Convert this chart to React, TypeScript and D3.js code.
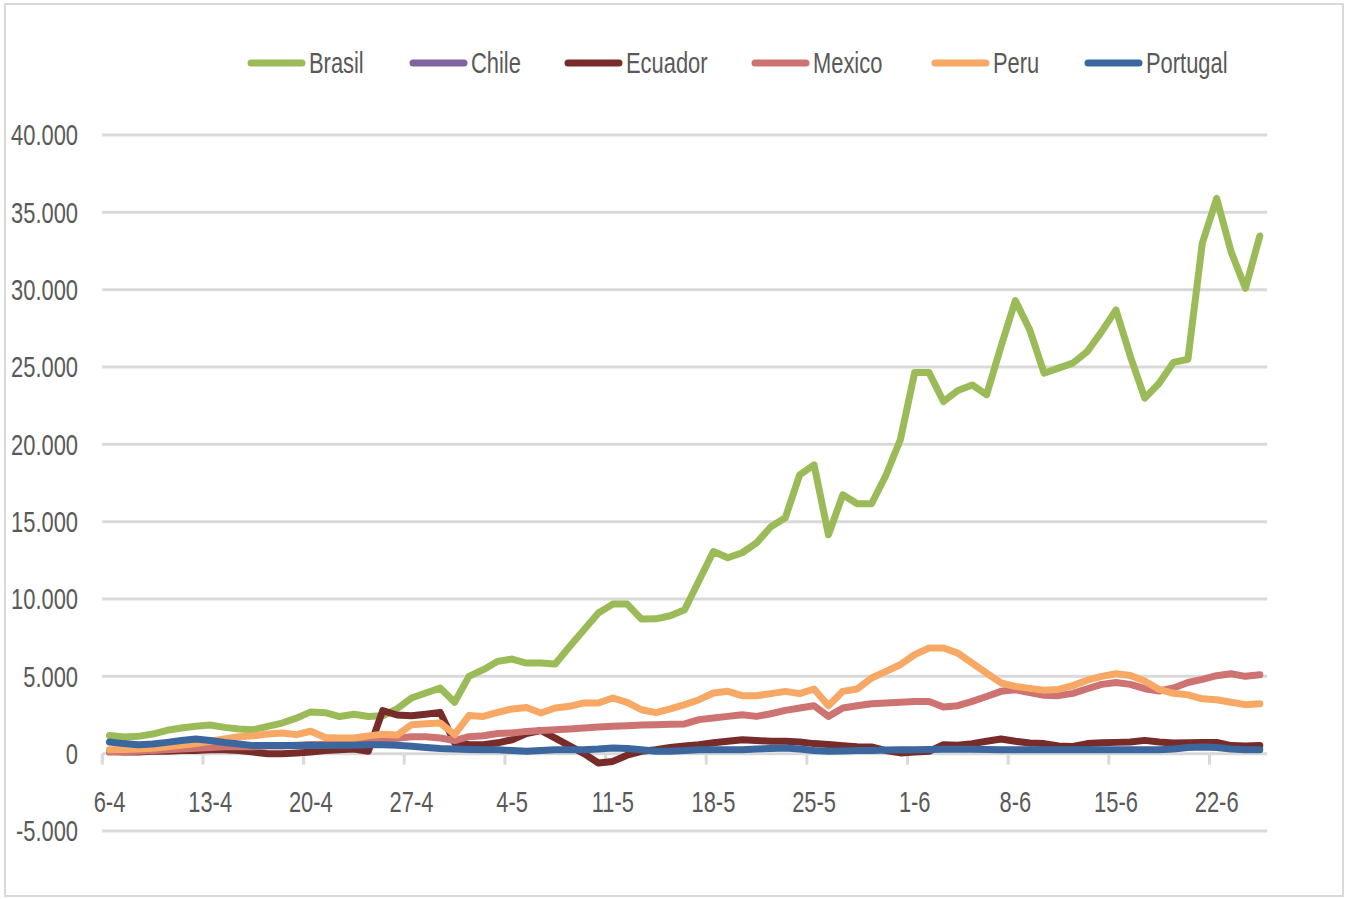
import React from 'react';
import * as d3 from 'd3';

const startDate = new Date(2020, 3, 6);
const dayCount = 81;
const dates = d3.timeDay.range(startDate, d3.timeDay.offset(startDate, dayCount));
const tickLabels = ['6-4', '13-4', '20-4', '27-4', '4-5', '11-5', '18-5', '25-5', '1-6', '8-6', '15-6', '22-6'];
const yTicks = [-5000, 0, 5000, 10000, 15000, 20000, 25000, 30000, 35000, 40000];

const brasil = [
  1180, 1080, 1120, 1270, 1510, 1660, 1770, 1850, 1700, 1590,
  1550, 1770, 1980, 2300, 2700, 2650, 2400, 2550, 2400, 2450,
  2900, 3600, 3920, 4240, 3320, 5000, 5430, 5970, 6120, 5860,
  5860, 5800, 6930, 8010, 9090, 9670, 9670, 8700, 8720, 8920,
  9300, 11200, 13070, 12665, 12990, 13630, 14670, 15250, 18030, 18675,
  14150, 16740, 16160, 16160, 18000, 20300, 24640, 24640, 22770, 23480,
  23840, 23200, 26320, 29290, 27400, 24600, 24925, 25250, 26000, 27290,
  28690, 25675, 22985, 23950, 25300, 25500, 33000, 35900, 32460, 30090,
  33470,
];
const chile: number[] = [];
const ecuador = [
  150, 100, 100, 150, 150, 200, 200, 250, 250, 200,
  100, 0, 0, 50, 100, 200, 250, 300, 150, 2780,
  2500, 2450, 2550, 2670, 700, 600, 580, 700, 900, 1300,
  1500, 1000, 500, 0, -600, -500, -100, 150, 250, 400,
  500, 580, 700, 800, 900, 850, 800, 800, 750, 650,
  600, 520, 450, 430, 200, 50, 100, 150, 580, 550,
  650, 800, 950, 800, 690, 650, 500, 470, 650, 700,
  730, 750, 860, 750, 690, 700, 730, 730, 520, 500,
  520,
];
const mexico = [
  100, 120, 150, 200, 250, 300, 350, 400, 450, 450,
  450, 500, 500, 550, 600, 600, 650, 700, 750, 800,
  1000, 1100, 1100, 1010, 850, 1100, 1160, 1300, 1340, 1440,
  1500, 1550, 1600, 1660, 1720, 1770, 1810, 1850, 1870, 1900,
  1920, 2200, 2300, 2410, 2520, 2410, 2580, 2800, 2950, 3100,
  2410, 2950, 3100, 3230, 3280, 3320, 3380, 3380, 3020, 3100,
  3380, 3700, 4030, 4130, 3950, 3780, 3750, 3900, 4200, 4480,
  4600, 4480, 4200, 4050, 4250, 4600, 4800, 5040, 5170, 5000,
  5100,
];
const peru = [
  260, 270, 300, 350, 450, 550, 650, 800, 950, 1100,
  1150, 1270, 1340, 1230, 1450, 1050, 1010, 1010, 1150, 1250,
  1200, 1870, 1940, 1980, 1230, 2460, 2410, 2670, 2890, 2990,
  2630, 2950, 3060, 3280, 3280, 3600, 3320, 2840, 2650, 2890,
  3170, 3490, 3920, 4030, 3750, 3750, 3880, 4030, 3880, 4180,
  3100, 4030, 4180, 4890, 5320, 5750, 6400, 6830, 6830, 6500,
  5860, 5210, 4570, 4350, 4220, 4100, 4150, 4400, 4750, 5000,
  5170, 5050, 4700, 4150, 3900, 3800, 3550, 3490, 3320, 3170,
  3230,
];
const portugal = [
  750, 650, 580, 620, 730, 850, 950, 850, 720, 620,
  520, 520, 520, 520, 520, 520, 550, 550, 580, 580,
  540, 480, 400, 330, 300, 270, 260, 260, 200, 150,
  200, 260, 260, 260, 300, 370, 330, 250, 150, 150,
  200, 250, 260, 260, 260, 300, 330, 370, 300, 200,
  150, 170, 200, 210, 230, 250, 260, 270, 280, 290,
  280, 270, 260, 260, 260, 260, 260, 260, 260, 260,
  260, 260, 260, 260, 300, 400, 430, 400, 300, 260,
  260,
];

const seriesNames = ['Brasil', 'Chile', 'Ecuador', 'Mexico', 'Peru', 'Portugal'];
const seriesColors = ['#9BBB59', '#8064A2', '#772C2A', '#CD7371', '#F8A865', '#3B679E'];
const seriesValues = [brasil, chile, ecuador, mexico, peru, portugal];

const W = 1348;
const H = 899;
const FONT = "'Liberation Sans', Arial, sans-serif";
const TEXT = '#595959';
const GRID = '#D9D9D9';
const FS = 30;
const SX = 0.73;

const locale = d3.formatLocale({ decimal: ',', thousands: '.', grouping: [3], currency: ['', ''], minus: '-' });
const fmt = locale.format(',');

function NarrowText(props: { x: number; y: number; anchor?: 'start' | 'middle' | 'end'; children: React.ReactNode }) {
  return (
    <g transform={`translate(${props.x},${props.y}) scale(${SX},1)`}>
      <text x={0} y={0} textAnchor={props.anchor || 'start'} dominantBaseline="central" fontSize={FS} fill={TEXT}>
        {props.children}
      </text>
    </g>
  );
}

export default function App() {
  const x = d3.scaleBand<number>().domain(d3.range(dates.length)).range([102.3, 1267]).paddingInner(0).paddingOuter(0);
  const y = d3.scaleLinear().domain([-5000, 40000]).range([831, 135]);
  const cx = (i: number) => (x(i) as number) + x.bandwidth() / 2;
  const line = d3.line<number>().x((_, i) => cx(i)).y((v) => y(v));

  const tickIdx = d3.range(0, dates.length, 7);
  const legendX = [248, 410, 565, 752, 932, 1085];

  return (
    <svg width={W} height={H} style={{ position: 'absolute', left: 0, top: 0, background: '#fff' }} fontFamily={FONT}>
      <rect x={5} y={4} width={1338} height={892} fill="#fff" stroke={GRID} strokeWidth={2} />
      {yTicks.map((t) => (
        <g key={t}>
          <line x1={102.3} x2={1267} y1={y(t)} y2={y(t)} stroke={GRID} strokeWidth={3} />
          <NarrowText x={78} y={y(t)} anchor="end">{fmt(t)}</NarrowText>
        </g>
      ))}
      {tickIdx.map((i) => (
        <line key={'t' + i} x1={x(i) as number} x2={x(i) as number} y1={y(0)} y2={y(0) + 11} stroke={GRID} strokeWidth={3} />
      ))}
      {tickIdx.map((i, k) => (
        <NarrowText key={'l' + i} x={cx(i)} y={802} anchor="middle">{tickLabels[k]}</NarrowText>
      ))}
      {seriesValues.map((vals, s) =>
        vals.length ? (
          <path key={seriesNames[s]} d={line(vals) || ''} fill="none" stroke={seriesColors[s]} strokeWidth={7} strokeLinejoin="round" strokeLinecap="round" />
        ) : null
      )}
      {seriesNames.map((n, s) => (
        <g key={'lg' + n}>
          <line x1={legendX[s] + 3} x2={legendX[s] + 54} y1={63} y2={63} stroke={seriesColors[s]} strokeWidth={7} strokeLinecap="round" />
          <NarrowText x={legendX[s] + 61} y={63}>{n}</NarrowText>
        </g>
      ))}
    </svg>
  );
}
